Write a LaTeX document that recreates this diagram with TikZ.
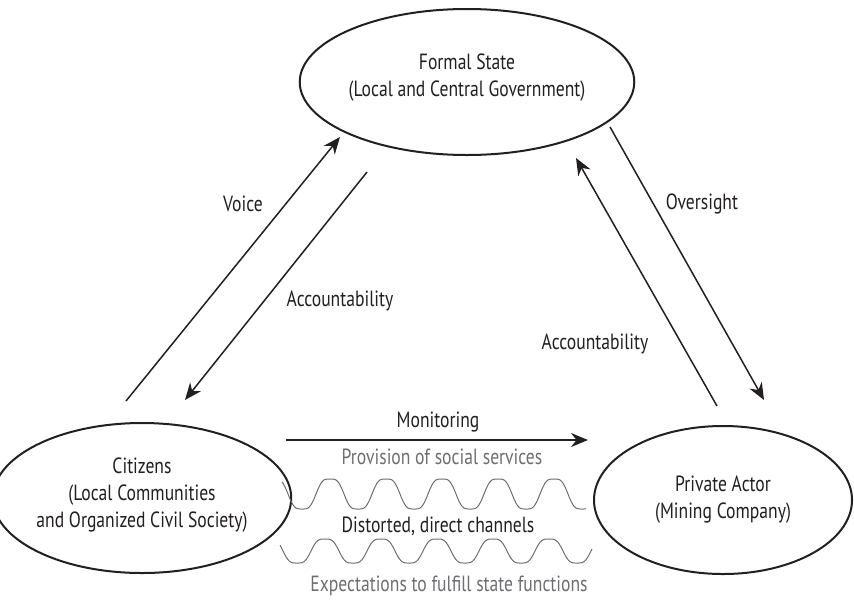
\documentclass[tikz,border=0pt]{standalone}
\usepackage{fontspec}
\setmainfont[FakeStretch=0.8]{PT Sans}
\usetikzlibrary{arrows.meta,shapes.geometric}
\definecolor{ink}{HTML}{231F20}
\definecolor{soft}{HTML}{6D6E71}

\begin{document}
\begin{tikzpicture}[x=0.5pt,y=-0.5pt,
            font=\fontsize{11}{13.5}\selectfont,
            actor/.style={ellipse,draw=ink,line width=1pt,text=ink,align=center,inner sep=0pt},
            link/.style={draw=ink,line width=0.75pt,-{Stealth[length=8.5pt,width=7pt]}},
            lbl/.style={text=ink,inner sep=0pt},
            note/.style={text=soft,inner sep=0pt},
            wavy/.style={draw=soft,line width=0.5pt}]
            \useasboundingbox (0,0) rectangle (854,600);

            % Actors (last empty line lifts the text a little)
            \node[actor,minimum width=135pt,minimum height=73pt] (state) at (467,82)
                {Formal State\\(Local and Central Government)\\[-7pt]\mbox{}};
            \node[actor,minimum width=135pt,minimum height=75pt] (citizens) at (142,498)
                {Citizens\\(Local Communities\\and Organized Civil Society)\\[-8pt]\mbox{}};
            \node[actor,minimum width=129pt,minimum height=74pt] (private) at (723,500)
                {Private Actor\\(Mining Company)};

            % Arrow ends
            \coordinate (voiceS) at (126,401);
            \coordinate (voiceE) at (340,137);
            \coordinate (accS) at (367,172);
            \coordinate (accE) at (185,400);
            \coordinate (accPS) at (717,406);
            \coordinate (accPE) at (576,158);
            \coordinate (overS) at (610,127);
            \coordinate (overE) at (764,400);
            \coordinate (monS) at (286,440);
            \coordinate (monE) at (588,440);

            \draw[link] (voiceS) -- (voiceE);
            \draw[link] (accS) -- (accE);
            \draw[link] (accPS) -- (accPE);
            \draw[link] (overS) -- (overE);
            \draw[link] (monS) -- (monE);

            \node[lbl] (voice) at (243,204) {Voice};
            \node[lbl] (oversight) at (702,204) {Oversight};
            \node[lbl] (accleft) at (340,301) {Accountability};
            \node[lbl] (accright) at (595,344) {Accountability};
            \node[lbl] (monitoring) at (438,422) {Monitoring};
            \node[note] (provision) at (442,457) {Provision of social services};
            \node[lbl] (distorted) at (438,526) {Distorted, direct channels};
            \node[note] (expect) at (449,586) {Expectations to fulfill state functions};

            % Channels (squared-off waves)
            \draw[wavy] plot[domain=282:586,samples=200,smooth]
                (\x,{494-15*(1.5*cos(6.4286*(\x-330))-0.5*pow(cos(6.4286*(\x-330)),3))});
            \draw[wavy] plot[domain=280:592,samples=200,smooth]
                (\x,{551-12*(1.5*cos(6.4286*(\x-325))-0.5*pow(cos(6.4286*(\x-325)),3))});

        \end{tikzpicture}
\end{document}
